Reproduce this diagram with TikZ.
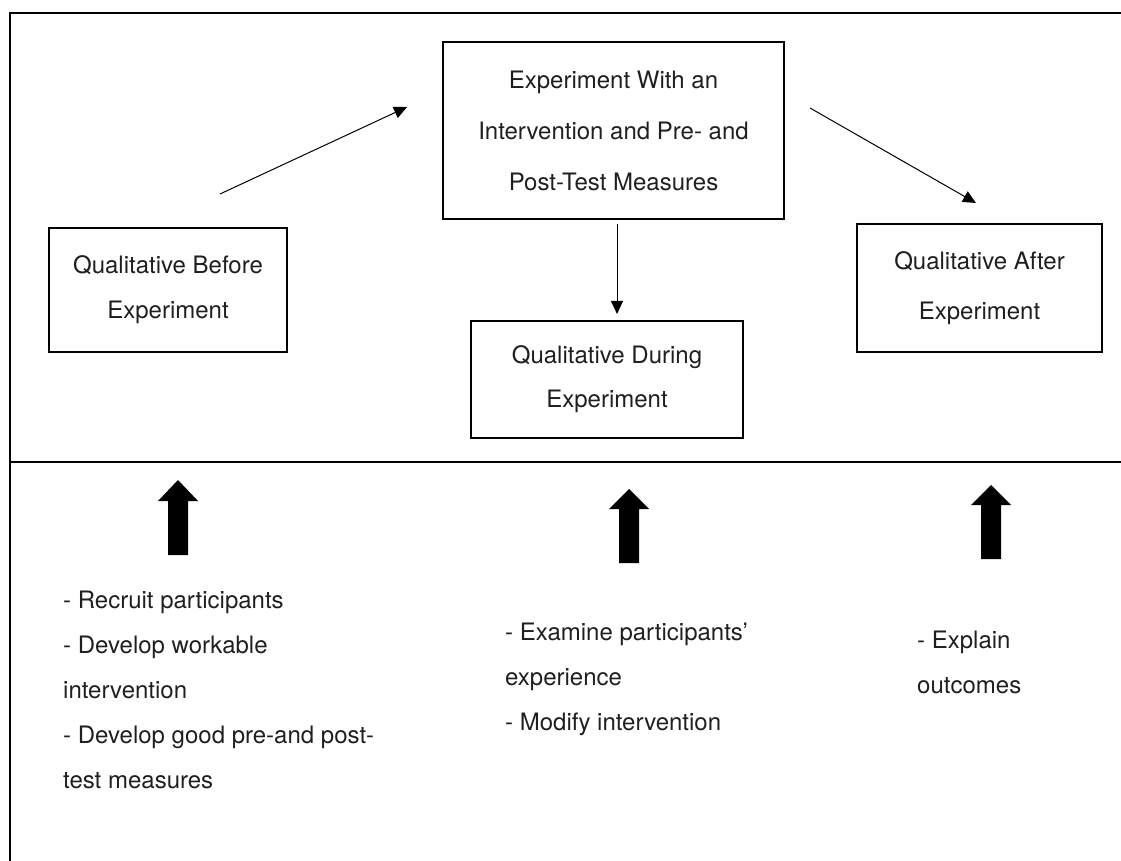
\documentclass[tikz,border=0pt]{standalone}
\usepackage{fontspec}
\setmainfont{TeX Gyre Heros}
\usetikzlibrary{arrows.meta}
\newcommand{\txtsize}[1]{\fontsize{24}{#1}\selectfont}
\begin{document}
\begin{tikzpicture}[x=1pt,y=-1pt,
  frameline/.style={line width=2.2pt},
  box/.style={draw,line width=2.1pt,align=center,inner sep=0pt,text=black!88},
  conn/.style={line width=1pt,-{Triangle[length=13pt,width=12pt]}},
  note/.style={align=left,anchor=north west,inner sep=0pt,font=\txtsize{45},text=black!88},
  bigarrow/.style={fill=black}]
\useasboundingbox (0,0) rectangle (1121,861);
% frame
\draw[frameline] (10,861) -- (10,13) -- (1121,13);
\draw[frameline] (10,462) -- (1121,462);
% boxes
\node[box,minimum width=341pt,minimum height=177pt,font=\txtsize{51}] (exp) at (613.5,130.5)
  {Experiment With an\\Intervention and Pre- and\\Post-Test Measures};
\node[box,minimum width=238pt,minimum height=124pt,font=\txtsize{45}] (before) at (168,290)
  {Qualitative Before\\Experiment};
\node[box,minimum width=272pt,minimum height=117pt,font=\txtsize{44}] (during) at (607,379.5)
  {Qualitative During\\Experiment};
\node[box,minimum width=245pt,minimum height=128pt,font=\txtsize{50}] (after) at (979.5,288)
  {Qualitative After\\Experiment};
% thin arrows
\coordinate (a1s) at (220,194);
\coordinate (a1e) at (407,107);
\coordinate (a2s) at (810,108);
\coordinate (a2e) at (976,203);
\coordinate (dx) at (617,0);
\draw[conn] (a1s) -- (a1e);
\draw[conn] (a2s) -- (a2e);
\draw[conn,shorten <=4pt,shorten >=6pt] (exp.south -| dx) -- (during.north -| dx);
% block arrows
\foreach \x/\t/\b/\e in {178/480/501/555, 629/489/509/563, 991/485/505/559}{
  \fill[bigarrow] (\x-10,\e) -- (\x-10,\b) -- (\x-20,\b) -- (\x,\t) -- (\x+20,\b) -- (\x+10,\b) -- (\x+10,\e) -- cycle;
}
% notes
\node[note] (n1) at (63,591) {- Recruit participants\\- Develop workable\\intervention\\- Develop good pre-and post-\\test measures};
\node[note] (n2) at (505,623) {- Examine participants’\\experience\\- Modify intervention};
\node[note] (n3) at (917,631) {- Explain\\outcomes};
\end{tikzpicture}
\end{document}
